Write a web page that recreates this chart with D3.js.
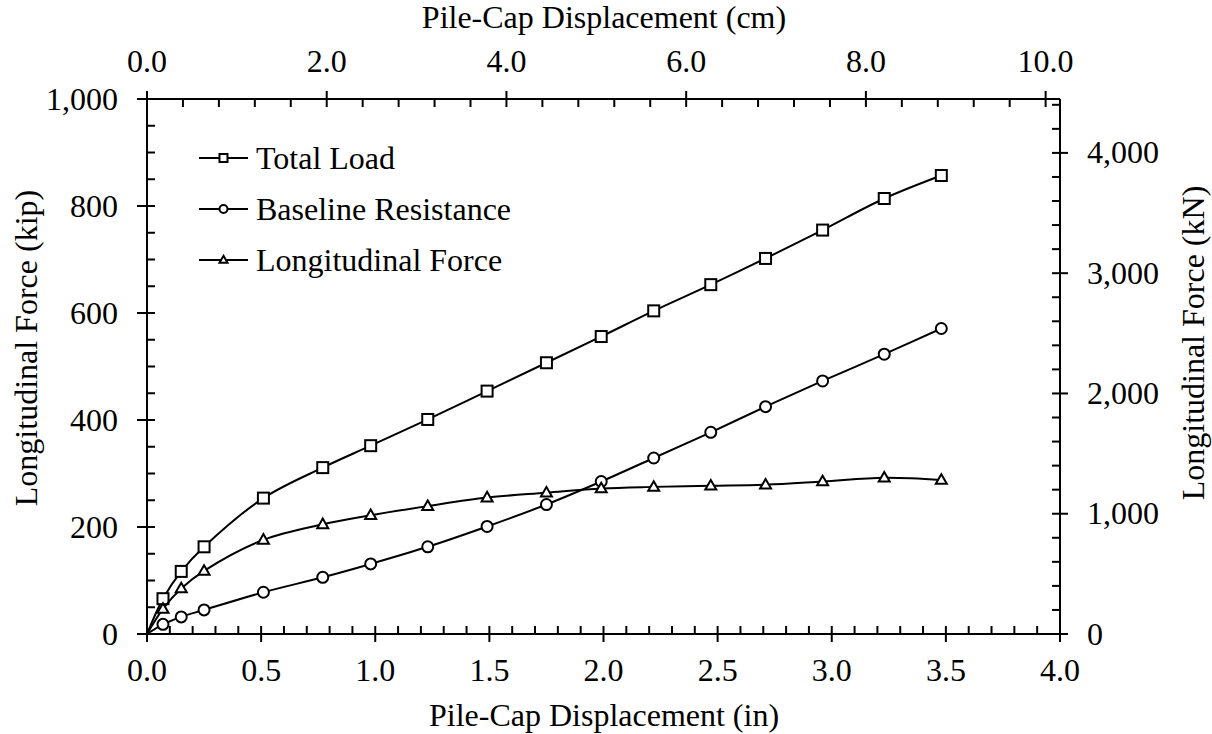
<!DOCTYPE html>
<html>
<head>
<meta charset="utf-8">
<script src="https://cdn.jsdelivr.net/npm/d3@7"></script>
<style>
  html, body { margin: 0; padding: 0; background: #fff; }
  svg { display: block; }
  text { font-family: "Liberation Serif", "Times New Roman", serif; fill: #000; }
</style>
</head>
<body>
<svg id="chart" width="1212" height="734"></svg>
<script>
// ---- data ----
const displacementIn = [0, 0.07, 0.15, 0.25, 0.51, 0.77, 0.98, 1.23, 1.49, 1.75, 1.99, 2.22, 2.47, 2.71, 2.96, 3.23, 3.48];
const totalLoad      = [0, 66, 117, 163, 254, 311, 352, 401, 454, 507, 556, 604, 653, 702, 755, 814, 857];
const baseline       = [0, 18, 32, 45, 78, 106, 131, 163, 201, 242, 285, 329, 377, 425, 473, 523, 571];
const longitudinal   = [0, 47, 85, 118, 176, 205, 222, 239, 255, 264, 272, 275, 277, 279, 285, 292, 288];
const seriesNames    = ["Total Load", "Baseline Resistance", "Longitudinal Force"];
const seriesMarkers  = ["square", "circle", "triangle"];
const xTicksIn  = [0, 0.5, 1.0, 1.5, 2.0, 2.5, 3.0, 3.5, 4.0];
const xTicksCm  = [0, 2, 4, 6, 8, 10];
const yTicksKip = [0, 200, 400, 600, 800, 1000];
const yTicksKN  = [0, 1000, 2000, 3000, 4000];
const IN_TO_CM = 2.54;
const KIP_TO_KN = 4.448222;

// ---- layout ----
const svg = d3.select("#chart");
const L = 147, R = 1060, T = 99, B = 634;
const FS = 32;

const x = d3.scaleLinear().domain([0, 4]).range([L, R]);
const xCm = d3.scaleLinear().domain([0, 4 * IN_TO_CM]).range([L, R]);
const y = d3.scaleLinear().domain([0, 1000]).range([B, T]);
const yKN = d3.scaleLinear().domain([0, 1000 * KIP_TO_KN]).range([B, T]);

const axisG = svg.append("g").attr("stroke", "#000").attr("stroke-width", 2);

// frame lines
axisG.append("line").attr("x1", L).attr("x2", R).attr("y1", B).attr("y2", B);
axisG.append("line").attr("x1", L).attr("x2", R).attr("y1", T).attr("y2", T);
axisG.append("line").attr("x1", L).attr("x2", L).attr("y1", T).attr("y2", B);
axisG.append("line").attr("x1", R).attr("x2", R).attr("y1", T).attr("y2", B);

const MJ = 8, MN = 8;
const fmt1 = d3.format(".1f");
const fmtK = d3.format(",");

// bottom axis (in)
d3.range(0, 40.5, 1).map(v => v / 10).forEach(v => {
  const px = x(v);
  const major = Math.abs(v * 2 - Math.round(v * 2)) < 1e-6;
  axisG.append("line").attr("x1", px).attr("x2", px)
    .attr("y1", major ? B + MJ : B).attr("y2", B - (major ? MJ : MN));
});
svg.append("g").selectAll("text").data(xTicksIn).join("text")
  .attr("x", d => x(d)).attr("y", 681).attr("text-anchor", "middle")
  .attr("font-size", FS).text(d => fmt1(d));

// top axis (cm)
d3.range(0, 26, 1).map(v => v * 0.4).filter(v => v <= 10.0001).forEach((v, i) => {
  const px = xCm(v);
  const major = i % 5 === 0;
  axisG.append("line").attr("x1", px).attr("x2", px)
    .attr("y1", major ? T - MJ : T).attr("y2", T + (major ? MJ : MN));
});
svg.append("g").selectAll("text").data(xTicksCm).join("text")
  .attr("x", d => xCm(d)).attr("y", 72).attr("text-anchor", "middle")
  .attr("font-size", FS).text(d => fmt1(d));

// left axis (kip)
d3.range(0, 1001, 50).forEach(v => {
  const py = y(v);
  const major = v % 200 === 0;
  axisG.append("line").attr("y1", py).attr("y2", py)
    .attr("x1", major ? L - MJ - 2 : L).attr("x2", L + (major ? MJ : MN));
});
svg.append("g").selectAll("text").data(yTicksKip).join("text")
  .attr("x", 118).attr("y", d => y(d)).attr("dy", "0.33em").attr("text-anchor", "end")
  .attr("font-size", FS).text(d => fmtK(d));

// right axis (kN)
d3.range(0, 4401, 200).forEach(v => {
  const py = yKN(v);
  const major = v % 1000 === 0;
  axisG.append("line").attr("y1", py).attr("y2", py)
    .attr("x1", major ? R + MJ : R).attr("x2", R - (major ? MJ : MN));
});
svg.append("g").selectAll("text").data(yTicksKN).join("text")
  .attr("x", 1087).attr("y", d => yKN(d)).attr("dy", "0.33em").attr("text-anchor", "start")
  .attr("font-size", FS).text(d => fmtK(d));

// axis titles
svg.append("text").attr("x", 604).attr("y", 726).attr("text-anchor", "middle")
  .attr("font-size", FS).text("Pile-Cap Displacement (in)");
svg.append("text").attr("x", 604).attr("y", 28).attr("text-anchor", "middle")
  .attr("font-size", FS).text("Pile-Cap Displacement (cm)");
svg.append("text").attr("transform", `translate(37,348) rotate(-90)`).attr("text-anchor", "middle")
  .attr("font-size", FS).text("Longitudinal Force (kip)");
svg.append("text").attr("transform", `translate(1204,343) rotate(-90)`).attr("text-anchor", "middle")
  .attr("font-size", FS).text("Longitudinal Force (kN)");

// series
const allSeries = [totalLoad, baseline, longitudinal];
const line = d3.line().x(d => x(d[0])).y(d => y(d[1])).curve(d3.curveCatmullRom.alpha(0.5));

function drawMarker(g, type, cx, cy, s) {
  if (type === "square") {
    g.append("rect").attr("x", cx - s / 2).attr("y", cy - s / 2).attr("width", s).attr("height", s)
      .attr("fill", "#fff").attr("stroke", "#000").attr("stroke-width", 2);
  } else if (type === "circle") {
    g.append("circle").attr("cx", cx).attr("cy", cy).attr("r", s / 2)
      .attr("fill", "#fff").attr("stroke", "#000").attr("stroke-width", 2);
  } else {
    const h = s * 0.866;
    g.append("path").attr("d", `M${cx},${cy - h * 0.6}L${cx + s / 2},${cy + h * 0.4}L${cx - s / 2},${cy + h * 0.4}Z`)
      .attr("fill", "#fff").attr("stroke", "#000").attr("stroke-width", 2).attr("stroke-linejoin", "miter");
  }
}

allSeries.forEach((vals, si) => {
  const pts = displacementIn.map((d, i) => [d, vals[i]]);
  const g = svg.append("g");
  g.append("path").datum(pts).attr("d", line).attr("fill", "none")
    .attr("stroke", "#000").attr("stroke-width", 2);
  pts.slice(1).forEach(p => drawMarker(g, seriesMarkers[si], x(p[0]), y(p[1]), 11));
});

// legend
const legY = [158, 209, 260];
seriesNames.forEach((name, i) => {
  const g = svg.append("g");
  g.append("line").attr("x1", 199).attr("x2", 248).attr("y1", legY[i]).attr("y2", legY[i])
    .attr("stroke", "#000").attr("stroke-width", 2);
  drawMarker(g, seriesMarkers[i], 223.5, legY[i], 8);
  g.append("text").attr("x", 256).attr("y", legY[i]).attr("dy", "0.35em")
    .attr("font-size", FS).text(name);
});
</script>
</body>
</html>
